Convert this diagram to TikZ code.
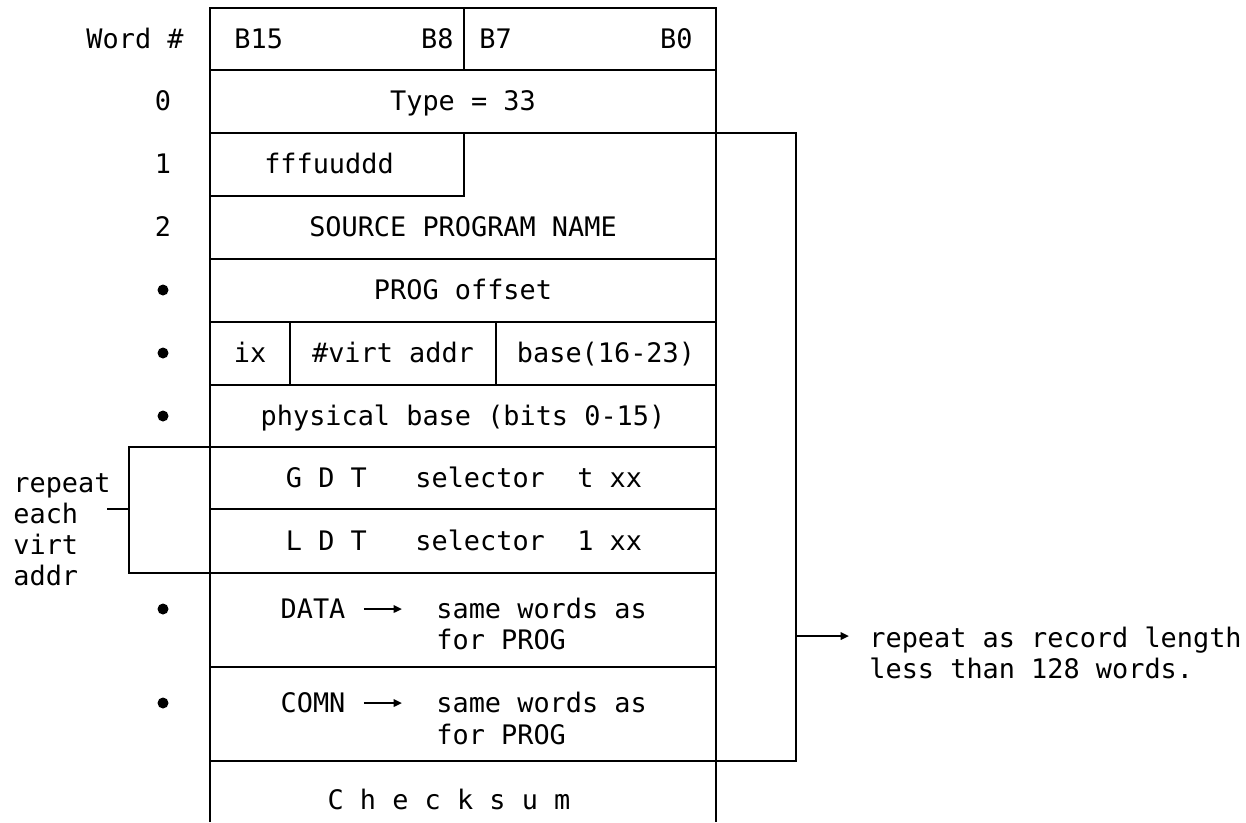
\documentclass[tikz,border=0pt]{standalone}
\usepackage{fontspec}
\setmonofont{DejaVu Sans Mono}
\usetikzlibrary{arrows.meta}

\begin{document}
\begin{tikzpicture}[x=0.02cm,y=-0.02cm,line width=1.6pt,
 every node/.style={inner sep=0pt,font=\ttfamily\fontsize{15.3}{17.6}\selectfont},
 cell/.style={text height=11.1pt,text depth=0pt},
 dot/.style={circle,fill,minimum size=0.22cm},
 arr/.style={-{Triangle[length=0.17cm,width=0.15cm]},line width=1.3pt}]
\useasboundingbox (0,0) rectangle (1246,822);
\draw (210,822) -- (210,8) -- (716,8) -- (716,822);
\draw (210,70) -- (716,70) (210,259) -- (716,259) (210,322) -- (716,322) (210,385) -- (716,385) (210,509) -- (716,509) (210,667) -- (716,667);
\draw (210,196) -- (464,196) -- (464,133);
\draw (464,8) -- (464,70) (290,322) -- (290,385) (496,322) -- (496,385);
\draw (716,447) -- (129,447) -- (129,573) -- (716,573);
\draw (210,133) -- (796,133) -- (796,761) -- (210,761);
\node[cell,anchor=east] (wordhd) at (185,39) {Word \#};
\node[cell,anchor=west] (b15) at (233,39) {B15};
\node[cell,anchor=east] (b8) at (455,39) {B8};
\node[cell,anchor=west] (b7) at (478,39) {B7};
\node[cell,anchor=east] (b0) at (694,39) {B0};
\node[cell] (w0) at (163,101) {0};
\node[cell] (w1) at (163,164) {1};
\node[cell] (w2) at (163,227) {2};
\node[dot] (d3) at (163,290) {};
\node[dot] (d4) at (163,353) {};
\node[dot] (d5) at (163,416) {};
\node[dot] (d6) at (163,609) {};
\node[dot] (d7) at (163,703) {};
\node[cell] (type) at (463,101) {Type = 33};
\node[cell] (fuds) at (329,164) {fffuuddd};
\node[cell] (srcname) at (463,227) {SOURCE PROGRAM NAME};
\node[cell] (progoff) at (463,290) {PROG offset};
\node[cell] (ix) at (250,353) {ix};
\node[cell] (nvirt) at (393,353) {\#virt addr};
\node[cell] (basehi) at (606,353) {base(16-23)};
\node[cell] (baselo) at (463,416) {physical base (bits 0-15)};
\node[cell] (gdt) at (464,478) {G~D~T~~~selector~~t~xx};
\node[cell] (ldt) at (464,541) {L~D~T~~~selector~~1~xx};
\node[cell] (ddata) at (313,609) {DATA};
\node[cell,anchor=west] (dsame) at (435,609) {same words as};
\node[cell,anchor=west] (dfor) at (435,640) {for PROG};
\node[cell] (ccomn) at (313,703) {COMN};
\node[cell,anchor=west] (csame) at (435,703) {same words as};
\node[cell,anchor=west] (cfor) at (435,735) {for PROG};
\node[cell] (chk) at (449,800) {C h e c k s u m};
\node[anchor=west,align=left] (virtnote) at (12,530) {repeat\\each\\virt\\addr};
\node[anchor=west,align=left] (recnote) at (868,653) {repeat as record length\\less than 128 words.};
\draw[arr,shorten <=0.34cm,shorten >=0.66cm] (ddata) -- (dsame);
\draw[arr,shorten <=0.34cm,shorten >=0.66cm] (ccomn) -- (csame);
\coordinate (lstub) at (107,509);
\coordinate (lbrk) at (129,509);
\draw (lstub) -- (lbrk);
\coordinate (rbrk) at (796,636);
\draw[arr,shorten >=0.38cm] (rbrk) -- (rbrk -| recnote.west);
\end{tikzpicture}
\end{document}
